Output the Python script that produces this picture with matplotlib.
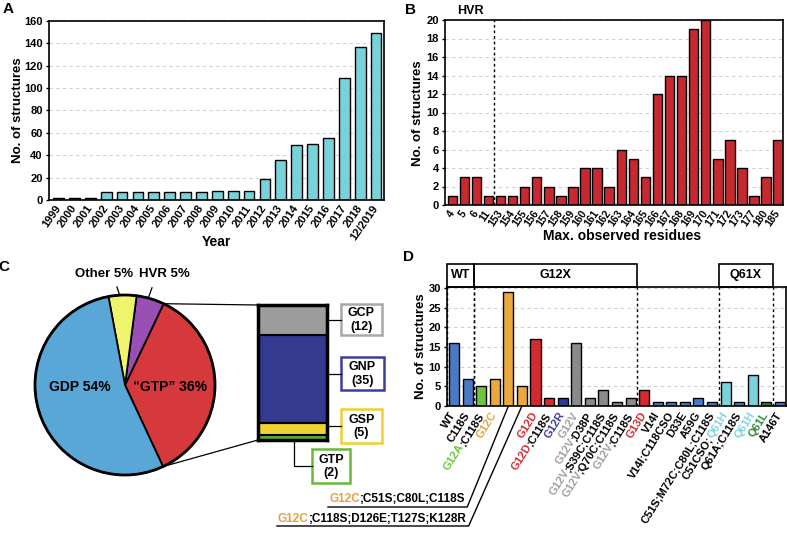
import matplotlib
matplotlib.use('Agg')
import matplotlib.pyplot as plt
import matplotlib.transforms as mtransforms
from matplotlib.font_manager import FontProperties
from matplotlib.patches import Rectangle, Circle
import numpy as np

plt.rcParams['font.family'] = ['Liberation Sans', 'DejaVu Sans']
plt.rcParams['font.weight'] = 'bold'

W, H = 787, 533
DPI = 100

# A - structures per year
years = ['1999', '2000', '2001', '2002', '2003', '2004', '2005', '2006', '2007',
         '2008', '2009', '2010', '2011', '2012', '2013', '2014', '2015', '2016',
         '2017', '2018', '12/2019']
year_counts = [2, 2, 2, 7, 7, 7, 7, 7, 7, 7, 8, 8, 8, 19, 36, 49, 50, 55, 109, 137, 149]

# B - max. observed residue
residues = ['4', '5', '6', '11', '153', '154', '155', '156', '157', '158', '159',
            '160', '161', '162', '163', '164', '165', '166', '167', '168', '169',
            '170', '171', '172', '173', '177', '180', '185']
residue_counts = [1, 3, 3, 1, 1, 1, 2, 3, 2, 1, 2, 4, 4, 2, 6, 5, 3, 12, 14, 14, 19,
                  20, 5, 7, 4, 1, 3, 7]

# C - nucleotide state
states = ['\u201cGTP\u201d', 'HVR', 'Other', 'GDP']
state_share = [36, 5, 5, 54]
state_colors = ['#d6393b', '#9a4fb4', '#eef46c', '#58a7d7']
analogs = ['GTP', 'GSP', 'GNP', 'GCP']
analog_counts = [2, 5, 35, 12]
analog_fill = ['#5caf33', '#f1d234', '#333a8f', '#9c9c9c']
analog_edge = ['#6ab83a', '#efd030', '#3a3ea0', '#a8a8a8']

# D - mutants
mutants = ['WT', 'C118S', 'G12A;C118S', 'G12C', 'G12C;C51S;C80L;C118S',
           'G12C;C118S;D126E;T127S;K128R', 'G12D', 'G12D;C118S', 'G12R', 'G12V',
           'G12V;D38P', 'G12V;S39C;C118S', 'G12V;Q70C;C118S', 'G12V;C118S', 'G13D',
           'V14I', 'V14I;C118CSO', 'D33E', 'A59G', 'C51S;M72C;C80L;C118S',
           'C51CSO;Q61H', 'Q61A;C118S', 'Q61H', 'Q61L', 'A146T']
mutant_counts = [16, 7, 5, 7, 29, 5, 17, 2, 2, 16, 2, 4, 1, 2, 4, 1, 1, 1, 2, 1,
                 6, 1, 8, 1, 1]
groups = [('WT', 0, 1), ('G12X', 2, 13), ('Q61X', 20, 23)]
bar_key_colors = {'G12A': '#6cc53c', 'G12C': '#e9a93c', 'G12D': '#d22a2e',
                  'G12R': '#2c3a9a', 'G12V': '#8a8a8a', 'G13D': '#d22a2e',
                  'Q61H': '#7bd3da', 'Q61L': '#2e7d3a'}
text_key_colors = {'G12A': '#6cc53c', 'G12C': '#e8a040', 'G12D': '#d42a2e',
                   'G12R': '#3a3c9c', 'G12V': '#a0a0a0', 'G13D': '#d42a2e',
                   'Q61H': '#7dd4dc', 'Q61L': '#2e8a3e'}
wt_blue = '#4a79c6'

fig = plt.figure(figsize=(W / DPI, H / DPI), dpi=DPI)
renderer = fig.canvas.get_renderer()


def px_axes(left, top, right, bottom):
    return fig.add_axes([left / W, 1 - bottom / H, (right - left) / W, (bottom - top) / H])


def ftext(x, y, s, **kw):
    fig.text(x / W, 1 - y / H, s, ha='center', va='center', **kw)


def style_axes(ax, xsize=8):
    for s in ax.spines.values():
        s.set_linewidth(1.2)
    ax.tick_params(axis='y', length=2.5, width=1, pad=2, labelsize=8)
    ax.tick_params(axis='x', length=0, pad=4.5, labelsize=xsize)
    ax.yaxis.grid(True, ls=(0, (3, 3)), color='#d0d0d0', lw=0.8)
    ax.set_axisbelow(True)


def text_width(s, size):
    prop = FontProperties(family=['Liberation Sans'], weight='bold', size=size)
    w, h, d = renderer.get_text_width_height_descent(s, prop, ismath=False)
    return w


def split_label(label):
    for key, col in text_key_colors.items():
        if label.startswith(key):
            parts = [(key, col), (label[len(key):], 'black')]
            return [p for p in parts if p[0]]
        if label.endswith(key):
            return [(label[:-len(key)], 'black'), (key, col)]
    return [(label, 'black')]


def draw_parts(ax, x, y, parts, transform, angle, size):
    # tail anchored at the right end, head placed at the left end of the full string
    full = ''.join(p for p, c in parts)
    wfull = text_width(full, size)
    th = np.deg2rad(angle)
    kw = dict(rotation=angle, rotation_mode='anchor', va='center', fontsize=size,
              fontweight='bold')
    tail, tail_col = parts[-1]
    ax.text(x, y, tail, color=tail_col, ha='right', transform=transform, **kw)
    if len(parts) > 1:
        head, head_col = parts[0]
        shift = mtransforms.Affine2D().translate(-wfull * np.cos(th), -wfull * np.sin(th))
        ax.text(x, y, head, color=head_col, ha='left', transform=transform + shift, **kw)
    return wfull


# ---------------- A
axA = px_axes(49, 21, 384, 200)
style_axes(axA, 8)
xa = np.arange(len(years))
axA.bar(xa, year_counts, width=0.68, color='#79d1d9', edgecolor='black', lw=1)
axA.set_xlim(-0.6, len(years) - 0.5)
axA.set_ylim(0, 160)
axA.set_yticks(range(0, 161, 20))
axA.set_xticks(xa)
axA.set_xticklabels(years, rotation=55, ha='right', va='center', rotation_mode='anchor')
ftext(18, 110, 'No. of structures', rotation=90, fontsize=9.5, fontweight='bold')
ftext(216, 242, 'Year', fontsize=10, fontweight='bold')
ftext(8, 9, 'A', fontsize=11, fontweight='bold')

# ---------------- B
axB = px_axes(445, 20, 783, 205)
style_axes(axB, 7.5)
xb = np.arange(len(residues))
axB.bar(xb, residue_counts, width=0.78, color='#c62a30', edgecolor='black', lw=1)
axB.set_xlim(-0.6, len(residues) - 0.6)
axB.set_ylim(0, 20)
axB.set_yticks(range(0, 21, 2))
axB.set_xticks(xb)
axB.set_xticklabels(residues, rotation=55, ha='right', va='center', rotation_mode='anchor')
axB.axvline(3.5, color='black', ls=(0, (2, 2)), lw=1)
axB.text(1.5, 1.05, 'HVR', transform=axB.get_xaxis_transform(), ha='center',
         va='center', fontsize=9, fontweight='bold')
ftext(418, 113, 'No. of structures', rotation=90, fontsize=9.5, fontweight='bold')
ftext(622, 236, 'Max. observed residues', fontsize=10, fontweight='bold')
ftext(410, 10, 'B', fontsize=11, fontweight='bold')

# ---------------- C
R = 90
axC = px_axes(125 - 1.1 * R, 385 - 1.1 * R, 125 + 1.1 * R, 385 + 1.1 * R)
start = -65
wedges, _ = axC.pie(state_share, colors=state_colors, startangle=start,
                    counterclock=True, radius=1,
                    wedgeprops=dict(edgecolor='black', lw=1.3))
axC.add_patch(Circle((0, 0), 1, fill=False, lw=2, ec='black'))
axC.set_xlim(-1.1, 1.1)
axC.set_ylim(-1.1, 1.1)
axC.set_aspect('equal')
axC.axis('off')
label_pos = [(0.5, -0.02, 10), (0.44, 1.233, 9.5), (-0.233, 1.233, 9.5), (-0.5, -0.02, 10)]
for name, share, (lx, ly, fs) in zip(states, state_share, label_pos):
    axC.text(lx, ly, f'{name} {share}%', ha='center', va='center', fontsize=fs,
             fontweight='bold')
axC.plot([-0.09, -0.06], [1.09, 1.0], color='black', lw=0.9, clip_on=False)
axC.plot([0.30, 0.26], [1.08, 0.97], color='black', lw=0.9, clip_on=False)

axS = px_axes(258, 305, 327, 440)
cum = np.concatenate([[0], np.cumsum(analog_counts)[:-1]])
axS.bar(0, analog_counts, bottom=cum, width=1, color=analog_fill,
        edgecolor='black', lw=1.5)
axS.set_xlim(-0.5, 0.5)
axS.set_ylim(0, sum(analog_counts))
axS.set_xticks([])
axS.set_yticks([])
for s in axS.spines.values():
    s.set_linewidth(2.5)

# overlay in pixel coordinates (origin top left)
ov = fig.add_axes([0, 0, 1, 1])
ov.set_xlim(0, W)
ov.set_ylim(H, 0)
ov.axis('off')


def to_px(ax, xy, coords='data'):
    tr = ax.transData if coords == 'data' else ax.transAxes
    x, y = tr.transform(xy)
    return x, H - y


a_top = np.deg2rad(start + state_share[0] * 3.6)
a_bot = np.deg2rad(start)
p1 = to_px(axC, (np.cos(a_top), np.sin(a_top)))
p2 = to_px(axC, (np.cos(a_bot), np.sin(a_bot)))
q1 = to_px(axS, (0, 1), 'axes')
q2 = to_px(axS, (0, 0), 'axes')
ov.plot([p1[0], q1[0]], [p1[1], q1[1]], color='black', lw=0.9)
ov.plot([p2[0], q2[0]], [p2[1], q2[1]], color='black', lw=0.9)

box_pos = {'GCP': (341, 304, 41, 31), 'GNP': (341, 357, 43, 33),
           'GSP': (341, 409, 41, 34), 'GTP': (312, 449, 38, 34)}
bar_right = to_px(axS, (1, 0), 'axes')[0]
bar_bottom = to_px(axS, (0, 0), 'axes')[1]
gtp_x = to_px(axS, (0.52, 0), 'axes')[0]
for name, count, ec in zip(analogs, analog_counts, analog_edge):
    bx, by, bw, bh = box_pos[name]
    cy = by + bh / 2
    if name == 'GTP':
        ov.plot([gtp_x, gtp_x, bx], [bar_bottom, cy, cy], color='black', lw=0.9)
    else:
        ov.plot([bar_right, bx], [cy, cy], color='black', lw=0.9)
    ov.add_patch(Rectangle((bx, by), bw, bh, fill=True, fc='white', ec=ec, lw=1.8))
    ov.text(bx + bw / 2, cy + 0.5, f'{name}\n({count})', ha='center', va='center',
            fontsize=9, fontweight='bold', linespacing=1.2)
ftext(4, 267, 'C', fontsize=11, fontweight='bold')

# ---------------- D
axD = px_axes(447, 287, 786, 406)
style_axes(axD)
xd = np.arange(len(mutants))
bar_colors = []
for m in mutants:
    col = wt_blue
    for key, c in bar_key_colors.items():
        if m.startswith(key) or m.endswith(key):
            col = c
            break
    bar_colors.append(col)
axD.bar(xd, mutant_counts, width=0.74, color=bar_colors, edgecolor='black', lw=1)
axD.set_xlim(-0.52, len(mutants) - 0.55)
axD.set_ylim(0, 30.3)
axD.set_yticks(range(0, 31, 5))
axD.set_xticks([])
xt = axD.get_xaxis_transform()
for gname, lo, hi in groups:
    left = max(lo - 0.5, axD.get_xlim()[0])
    right = hi + 0.5
    axD.add_patch(Rectangle((left, 1), right - left, 0.193, transform=xt, fill=False,
                            lw=1.2, ec='black', clip_on=False))
    axD.text((left + right) / 2, 1.097, gname, transform=xt, ha='center', va='center',
             fontsize=9, fontweight='bold')
    for edge in (lo - 0.5, hi + 0.5):
        if edge > axD.get_xlim()[0]:
            axD.axvline(edge, color='black', ls=(0, (2, 2)), lw=1)

lab_tr = xt + mtransforms.Affine2D().translate(0, -7)
long_rows = {4: (329, 499, 507), 5: (278, 519, 526)}
for i, m in enumerate(mutants):
    parts = split_label(m)
    if i in long_rows:
        lx, ly, uy = long_rows[i]
        wfull = text_width(m, 8.5)
        draw_parts(ov, lx + wfull, ly, parts, ov.transData, 0, 8.5)
        bx, by = to_px(axD, (i, 0))
        ov.plot([lx - 1, lx + wfull + 2, bx], [uy, uy, by], color='black', lw=1)
    else:
        draw_parts(axD, i, 0, parts, lab_tr, 58, 8)

ftext(421, 346, 'No. of structures', rotation=90, fontsize=9.5, fontweight='bold')
ftext(408, 257, 'D', fontsize=11, fontweight='bold')

fig.savefig('out.png', dpi=DPI)
